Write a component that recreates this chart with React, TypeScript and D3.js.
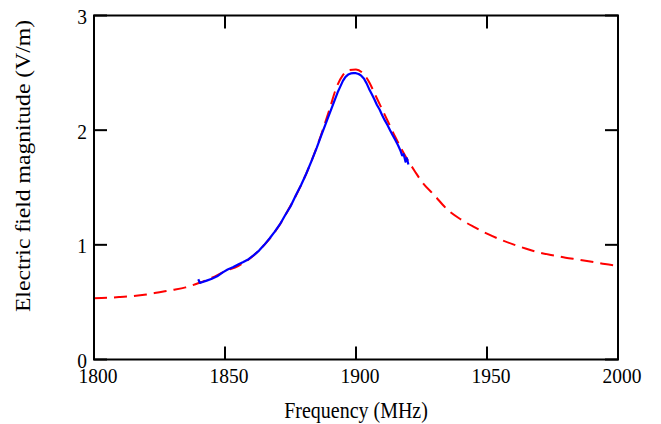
import React from "react";
import * as d3 from "d3";

const xTicks = [1800, 1850, 1900, 1950, 2000];
const yTicks = [0, 1, 2, 3];

const simFreq = [1800, 1805, 1810, 1815, 1820, 1825, 1830, 1835, 1840, 1845, 1850, 1855, 1860, 1865, 1870, 1875, 1880, 1885, 1890, 1892.5, 1895, 1897.5, 1900, 1902.5, 1905, 1907.5, 1910, 1912.5, 1915, 1917.5, 1920, 1922.5, 1925, 1930, 1935, 1940, 1945, 1950, 1955, 1960, 1965, 1970, 1975, 1980, 1985, 1990, 1995, 2000];
const simVal = [0.534, 0.538, 0.545, 0.553, 0.567, 0.587, 0.606, 0.629, 0.667, 0.713, 0.77, 0.815, 0.89, 1.0, 1.145, 1.34, 1.568, 1.85, 2.19, 2.37, 2.48, 2.525, 2.53, 2.5, 2.42, 2.3, 2.18, 2.06, 1.94, 1.83, 1.73, 1.64, 1.555, 1.43, 1.305, 1.222, 1.156, 1.097, 1.047, 1.004, 0.966, 0.933, 0.91, 0.888, 0.871, 0.852, 0.832, 0.818];

const measFreq = [1839.8, 1840.4, 1841.5, 1843, 1845, 1847, 1849, 1851, 1853, 1855, 1857, 1859, 1861, 1863, 1865, 1867, 1869, 1871, 1873, 1875, 1877, 1879, 1881, 1883, 1885, 1887, 1889, 1891, 1893, 1894, 1895, 1896, 1897, 1898, 1899, 1900, 1901, 1902, 1903, 1904, 1905, 1906, 1907, 1908, 1909, 1910, 1911, 1912, 1913, 1914, 1915, 1916, 1917, 1917.6, 1918.2, 1918.9, 1919.4, 1920];
const measVal = [0.70, 0.668, 0.676, 0.688, 0.705, 0.725, 0.758, 0.785, 0.805, 0.828, 0.85, 0.875, 0.91, 0.95, 1.0, 1.055, 1.115, 1.18, 1.26, 1.335, 1.43, 1.52, 1.62, 1.73, 1.845, 1.97, 2.09, 2.21, 2.33, 2.38, 2.43, 2.465, 2.485, 2.495, 2.497, 2.497, 2.49, 2.475, 2.45, 2.41, 2.36, 2.315, 2.27, 2.22, 2.18, 2.13, 2.085, 2.045, 2.0, 1.955, 1.915, 1.87, 1.82, 1.78, 1.79, 1.725, 1.755, 1.70];

const W = 661, H = 424;
const L = 94, R = 618, T = 15.5, B = 359.5;
const S = 1.12; // vertical text stretch

export default function App() {
  const x = d3.scaleLinear().domain([1800, 2000]).range([L, R]);
  const y = d3.scaleLinear().domain([0, 3]).range([B, T]);

  const simPath =
    d3
      .line<[number, number]>()
      .x((d) => x(d[0]))
      .y((d) => y(d[1]))
      .curve(d3.curveMonotoneX)(simFreq.map((f, i) => [f, simVal[i]]) as [number, number][]) || "";
  const measPath =
    d3
      .line<[number, number]>()
      .x((d) => x(d[0]))
      .y((d) => y(d[1]))
      .curve(d3.curveLinear)(measFreq.map((f, i) => [f, measVal[i]]) as [number, number][]) || "";

  const font = "'Liberation Serif', 'Times New Roman', serif";
  const tickLen = 13;

  return (
    <svg width={W} height={H} style={{ position: "absolute", left: 0, top: 0, background: "#fff" }}>
      <rect x={0} y={0} width={W} height={H} fill="#fff" />
      <path d={simPath} fill="none" stroke="#ff0000" strokeWidth={2} strokeDasharray="13,7" />
      <path d={measPath} fill="none" stroke="#0000ff" strokeWidth={2.2} strokeLinejoin="round" />
      <rect x={L} y={T} width={R - L} height={B - T} fill="none" stroke="#000" strokeWidth={2} />
      {xTicks.map((t) => (
        <g key={"xt" + t}>
          <line x1={x(t)} x2={x(t)} y1={B} y2={B - tickLen} stroke="#000" strokeWidth={2} />
          <line x1={x(t)} x2={x(t)} y1={T} y2={T + tickLen} stroke="#000" strokeWidth={2} />
          <text
            transform={`translate(${x(t) + 4},383) scale(1,${S})`}
            textAnchor="middle"
            fontFamily={font}
            fontSize={19.5}
            fill="#000"
          >
            {t}
          </text>
        </g>
      ))}
      {yTicks.map((t) => (
        <g key={"yt" + t}>
          <line x1={L} x2={L + tickLen} y1={y(t)} y2={y(t)} stroke="#000" strokeWidth={2} />
          <line x1={R} x2={R - tickLen} y1={y(t)} y2={y(t)} stroke="#000" strokeWidth={2} />
          <text
            transform={`translate(87,${y(t) + 8.5}) scale(1,${S})`}
            textAnchor="end"
            fontFamily={font}
            fontSize={19.5}
            fill="#000"
          >
            {t}
          </text>
        </g>
      ))}
      <text
        transform={`translate(${(L + R) / 2},417.5) scale(1,${S})`}
        textAnchor="middle"
        fontFamily={font}
        fontSize={20}
        fill="#000"
      >
        Frequency (MHz)
      </text>
      <text
        transform={`translate(29.5,166) rotate(-90) scale(1.1,1)`}
        textAnchor="middle"
        fontFamily={font}
        fontSize={21.5}
        fill="#000"
      >
        Electric field magnitude (V/m)
      </text>
    </svg>
  );
}
